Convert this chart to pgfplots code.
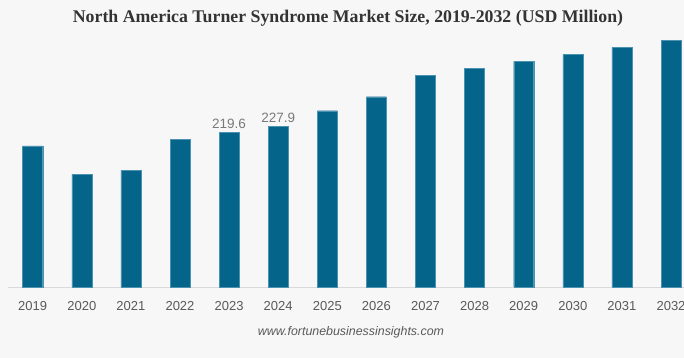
\documentclass[border=0pt]{standalone}
\usepackage{fontspec}
\setmainfont{Liberation Sans}
\newfontfamily\titlefont{Liberation Serif}
\usepackage{pgfplots}
\pgfplotsset{compat=1.18}
\definecolor{bgc}{HTML}{F7F7F7}
\definecolor{barc}{HTML}{04648A}
\definecolor{baredge}{HTML}{4A92B0}
\definecolor{tickc}{HTML}{595959}
\definecolor{valc}{HTML}{7A7A7A}
\definecolor{titlec}{HTML}{333333}
\definecolor{wmc}{HTML}{5A5A5A}
\definecolor{axc}{HTML}{D9D9D9}
\begin{document}
\begin{tikzpicture}
\fill[bgc] (0,0) rectangle (684pt,358pt);
\useasboundingbox (0,0) rectangle (684pt,358pt);
\clip (0,0) rectangle (684pt,358pt);
\begin{axis}[
  at={(8.15pt,71pt)}, anchor=south west,
  scale only axis,
  width=687.4pt, height=256.96pt,
  xmin=-0.5, xmax=13.5, ymin=0, ymax=365,
  axis x line*=bottom,
  axis y line=none,
  x axis line style={axc, line width=0.8pt, -},
  xtick={0,...,13},
  xticklabels={2019,2020,2021,2022,2023,2024,2025,2026,2027,2028,2029,2030,2031,2032},
  major tick length=0pt,
  xticklabel style={font=\fontsize{13}{15}\selectfont, text=tickc, anchor=north, yshift=-11pt},
  ytick=\empty,
  clip=false,
]
\addplot[ybar, bar width=20pt, fill=barc, draw=baredge, line width=0.4pt] coordinates {
(0,200.3) (1,160.1) (2,165.2) (3,210.2) (4,219.6) (5,227.9) (6,250.4)
(7,270.3) (8,300.7) (9,310.6) (10,320.6) (11,330.5) (12,340.5) (13,350.4)};
\addplot[draw=none, mark=none, nodes near coords, point meta=y,
  nodes near coords style={font=\fontsize{13.5}{15}\selectfont, text=valc, anchor=south, yshift=0pt,
  /pgf/number format/.cd, fixed, precision=1, fixed zerofill, assume math mode=true}]
  coordinates {(4,219.6) (5,227.9)};
\end{axis}
\node[font=\titlefont\bfseries\fontsize{17.8}{20}\selectfont, text=titlec] at (348pt,340pt) {North America Turner Syndrome Market Size, 2019-2032 (USD Million)};
\node[font=\itshape\fontsize{12.4}{14}\selectfont, text=wmc] at (351pt,26pt) {www.fortunebusinessinsights.com};
\end{tikzpicture}
\end{document}
